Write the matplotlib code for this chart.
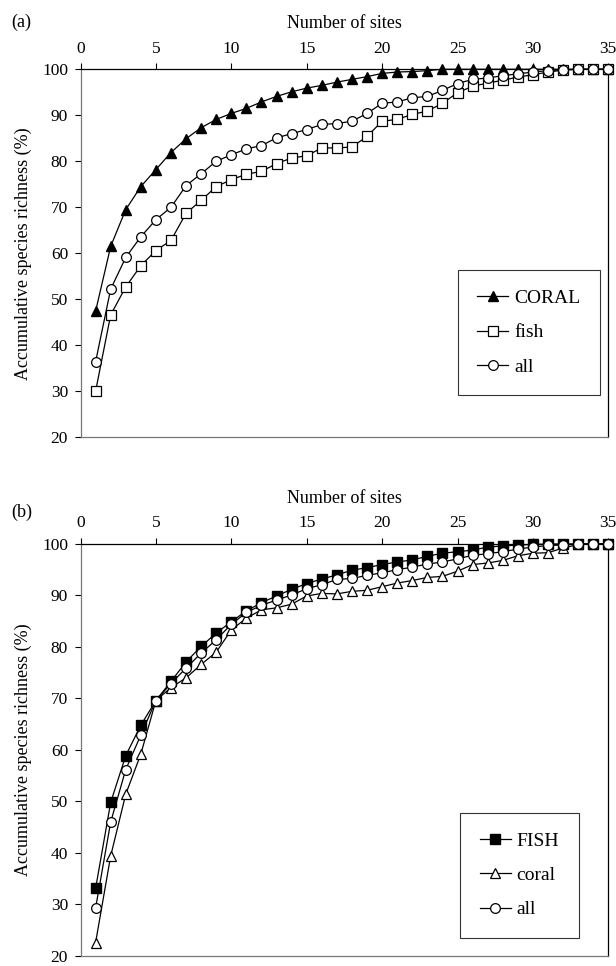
import matplotlib
matplotlib.use('Agg')
import matplotlib.pyplot as plt

plt.rcParams['font.family'] = ['Liberation Serif', 'DejaVu Serif']

sites = list(range(1, 36))

# panel (a)
coral_a = [47.4, 61.5, 69.5, 74.5, 78.2, 81.9, 84.9, 87.3, 89.1, 90.4,
           91.5, 92.9, 94.1, 95.1, 95.9, 96.5, 97.2, 97.8, 98.4, 99.1,
           99.4, 99.5, 99.7, 100, 100, 100, 100, 100, 100, 100,
           100, 100, 100, 100, 100]
fish_a = [30.0, 46.6, 52.7, 57.3, 60.6, 62.8, 68.7, 71.5, 74.5, 76.0,
          77.2, 77.8, 79.5, 80.7, 81.2, 82.9, 82.9, 83.1, 85.4, 88.7,
          89.1, 90.2, 90.9, 92.6, 94.9, 96.3, 97.0, 97.6, 98.3, 98.8,
          99.4, 99.8, 100, 100, 100]
all_a = [36.4, 52.2, 59.1, 63.6, 67.3, 70.0, 74.7, 77.3, 80.0, 81.4,
         82.7, 83.4, 85.1, 86.0, 86.9, 88.0, 88.2, 88.7, 90.4, 92.6,
         92.9, 93.8, 94.1, 95.4, 96.9, 97.8, 98.1, 98.6, 99.0, 99.4,
         99.7, 99.9, 100, 100, 100]

# panel (b)
fish_b = [33.1, 49.8, 58.9, 64.8, 69.6, 73.3, 77.1, 80.1, 82.7, 84.9,
          87.0, 88.6, 89.9, 91.2, 92.3, 93.2, 94.0, 94.9, 95.4, 96.0,
          96.5, 96.9, 97.6, 98.2, 98.5, 98.8, 99.4, 99.6, 99.8, 99.9,
          100, 100, 100, 100, 100]
coral_b = [22.6, 39.4, 51.4, 59.2, 69.6, 72.1, 74.0, 76.6, 79.0, 83.3,
           85.6, 87.2, 87.6, 88.3, 89.9, 90.4, 90.3, 90.8, 91.0, 91.7,
           92.4, 92.9, 93.5, 93.7, 94.7, 96.0, 96.3, 96.8, 97.7, 98.2,
           98.3, 99.2, 99.9, 100, 100]
all_b = [29.3, 46.0, 56.2, 62.9, 69.6, 72.9, 75.9, 78.8, 81.4, 84.4,
         86.7, 88.1, 89.1, 90.1, 91.3, 92.1, 93.1, 93.3, 93.9, 94.4,
         95.0, 95.5, 96.1, 96.5, 97.1, 97.8, 98.1, 98.5, 99.0, 99.4,
         99.7, 99.8, 100, 100, 100]

xticks = [0, 5, 10, 15, 20, 25, 30, 35]
yticks = [20, 30, 40, 50, 60, 70, 80, 90, 100]

fig = plt.figure(figsize=(6.16, 9.66), dpi=100)
ax_a = fig.add_axes([0.1307, 0.5473, 0.8568, 0.381])
ax_b = fig.add_axes([0.1307, 0.0104, 0.8568, 0.4265])

def style_axes(ax):
    ax.set_xlim(0, 35)
    ax.set_ylim(20, 100)
    ax.set_xticks(xticks)
    ax.set_yticks(yticks)
    ax.xaxis.tick_top()
    ax.xaxis.set_label_position('top')
    ax.set_xlabel('Number of sites', fontsize=13, labelpad=9)
    ax.set_ylabel('Accumulative species richness (%)', fontsize=13, labelpad=7)
    ax.tick_params(direction='out', length=4, width=0.8, labelsize=12.5, pad=5)
    ax.spines['left'].set_color('#777777')
    ax.spines['bottom'].set_color('#777777')
    for s in ax.spines.values():
        s.set_linewidth(0.9)

def add_legend(ax, anchor):
    leg = ax.legend(loc='lower right', bbox_to_anchor=anchor, fontsize=14,
                    frameon=True, fancybox=False, edgecolor='black',
                    handlelength=1.6, borderpad=1.0, labelspacing=0.85,
                    handletextpad=0.3, borderaxespad=0)
    leg.get_frame().set_linewidth(0.8)

ms = 7
ax_a.plot(sites, coral_a, '-', color='black', lw=0.9, marker='^', ms=ms,
          mfc='black', mec='black', label='CORAL', clip_on=False, zorder=3)
ax_a.plot(sites, fish_a, '-', color='black', lw=0.9, marker='s', ms=ms - 0.5,
          mfc='white', mec='black', mew=0.9, label='fish', clip_on=False, zorder=4)
ax_a.plot(sites, all_a, '-', color='black', lw=0.9, marker='o', ms=ms,
          mfc='white', mec='black', mew=0.9, label='all', clip_on=False, zorder=5)
style_axes(ax_a)
add_legend(ax_a, (0.984, 0.115))

ax_b.plot(sites, fish_b, '-', color='black', lw=0.9, marker='s', ms=ms - 0.5,
          mfc='black', mec='black', label='FISH', clip_on=False, zorder=3)
ax_b.plot(sites, coral_b, '-', color='black', lw=0.9, marker='^', ms=ms,
          mfc='white', mec='black', mew=0.9, label='coral', clip_on=False, zorder=4)
ax_b.plot(sites, all_b, '-', color='black', lw=0.9, marker='o', ms=ms,
          mfc='white', mec='black', mew=0.9, label='all', clip_on=False, zorder=5)
style_axes(ax_b)
add_legend(ax_b, (0.944, 0.044))

fig.text(0.035, 1 - 22 / 966, '(a)', fontsize=13, ha='center', va='center')
fig.text(0.035, 1 - 512 / 966, '(b)', fontsize=13, ha='center', va='center')

fig.savefig('out.png', dpi=100)
